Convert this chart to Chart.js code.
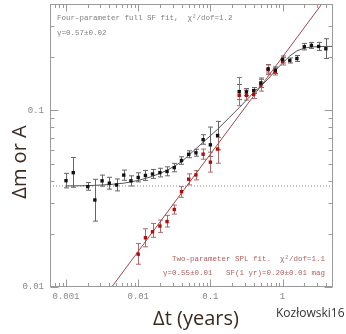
<!DOCTYPE html>
<html>
<head>
<meta charset="utf-8">
<script src="https://cdn.jsdelivr.net/npm/chart.js@4.4.1/dist/chart.umd.min.js"></script>
<style>
html,body{margin:0;padding:0;background:#fff;}
canvas{display:block;}
</style>
</head>
<body>
<canvas id="c" width="346" height="334"></canvas>
<script>
// ---- data ----
const blackDt = [0.001,0.00126,0.002,0.00251,0.00316,0.00398,0.00501,0.00631,0.00794,0.01,0.0126,0.0158,0.02,0.0251,0.0316,0.0398,0.0501,0.0631,0.0794,0.1,0.126,0.251,0.316,0.398,0.501,0.631,0.794,1.0,1.26,1.58,2.0,2.51,3.16,3.98];
const blackSF = [0.0400,0.0444,0.0370,0.0311,0.0399,0.0387,0.0378,0.0430,0.0399,0.0417,0.0428,0.0436,0.0444,0.0451,0.0474,0.0520,0.0564,0.0575,0.0682,0.0638,0.0721,0.1277,0.1272,0.1294,0.1431,0.1718,0.1688,0.1941,0.1916,0.1966,0.2292,0.2331,0.2301,0.2233];
const blackLo = [0.0364,0.0367,0.0353,0.0236,0.0372,0.0358,0.0350,0.0402,0.0373,0.0394,0.0401,0.0412,0.0420,0.0426,0.0449,0.0495,0.0539,0.0550,0.0643,0.0548,0.0598,0.115,0.1212,0.1245,0.1346,0.1627,0.1616,0.1854,0.1854,0.1891,0.2198,0.2242,0.2184,0.1966];
const blackHi = [0.0440,0.0541,0.0390,0.0407,0.0430,0.0418,0.0409,0.0459,0.0426,0.0443,0.0457,0.0463,0.0470,0.0479,0.0501,0.0546,0.0590,0.0602,0.0728,0.0804,0.0866,0.140,0.1328,0.1346,0.1524,0.1818,0.176,0.2032,0.1980,0.2045,0.2393,0.2424,0.2424,0.2544];

const redDt = [0.01,0.0126,0.0158,0.02,0.0251,0.0316,0.0398,0.0501,0.0631,0.0794,0.1,0.126,0.251,0.316,0.398,0.501,0.631,0.794,1.0];
const redSF = [0.01534,0.0190,0.02054,0.02213,0.02347,0.02746,0.03465,0.04076,0.0431,0.0565,0.0509,0.0604,0.1217,0.1217,0.1233,0.139,0.1697,0.1659,0.1898];
const redLo = [0.01346,0.01688,0.0191,0.02038,0.02184,0.02588,0.0322,0.03785,0.0404,0.0529,0.0447,0.0502,0.1063,0.1143,0.1166,0.1285,0.1595,0.1585,0.1806];
const redHi = [0.01764,0.02136,0.0229,0.02393,0.02545,0.0291,0.0370,0.04368,0.0456,0.0604,0.0580,0.0703,0.1534,0.1302,0.1311,0.1494,0.1806,0.1737,0.1993];

const fitDt = [0.001,0.002,0.00398,0.00631,0.01,0.0158,0.0251,0.0398,0.0631,0.1,0.126,0.251,0.398,0.501,0.631,0.794,1.0,1.26,1.58,2.0,2.51,3.16,3.98,5];
const fitSF = [0.03735,0.03745,0.0380,0.0387,0.0401,0.0423,0.0457,0.0511,0.0606,0.0718,0.0782,0.1036,0.1261,0.1373,0.1504,0.1681,0.1854,0.2032,0.2170,0.2251,0.2283,0.2295,0.2301,0.2301];

const splDt = [0.0043,3.5];
const splSF = [0.01,0.4];

const noiseDt = [0.0006,5];
const noiseSF = [0.0373,0.0373];

const xTickLabels = ['0.001','0.01','0.1','1'];
const yTickLabels = ['0.01','0.1'];

const xMin = 0.000625, xMax = 5, yMin = 0.01, yMax = 0.4;

const pts = (xs, ys) => xs.map((x, i) => ({x: x, y: ys[i]}));
const isDecade = v => Math.abs(Math.log10(v) - Math.round(Math.log10(v))) < 1e-6;

const errorBars = {
  id: 'errorBars',
  beforeDatasetsDraw(chart) {
    const ctx = chart.ctx, xs = chart.scales.x, ys = chart.scales.y;
    const draw = (dt, lo, hi, color) => {
      ctx.save();
      ctx.strokeStyle = color; ctx.lineWidth = 1;
      dt.forEach((d, i) => {
        const x = Math.round(xs.getPixelForValue(d)) + 0.5;
        const y1 = ys.getPixelForValue(lo[i]), y2 = ys.getPixelForValue(hi[i]);
        ctx.beginPath();
        ctx.moveTo(x, y1); ctx.lineTo(x, y2);
        ctx.moveTo(x - 2.5, y1); ctx.lineTo(x + 2.5, y1);
        ctx.moveTo(x - 2.5, y2); ctx.lineTo(x + 2.5, y2);
        ctx.stroke();
      });
      ctx.restore();
    };
    draw(blackDt, blackLo, blackHi, '#666');
    draw(redDt, redLo, redHi, '#b06a6a');
  }
};

const frameAndText = {
  id: 'frameAndText',
  afterDraw(chart) {
    const ctx = chart.ctx, a = chart.chartArea, xs = chart.scales.x, ys = chart.scales.y;
    ctx.save();
    ctx.strokeStyle = '#9a9a9a'; ctx.lineWidth = 1;
    const L = Math.round(a.left) + 0.5, R = Math.round(a.right) - 0.5;
    const T = Math.round(a.top) + 0.5, B = Math.round(a.bottom) - 0.5;
    ctx.strokeRect(L, T, R - L, B - T);
    ctx.beginPath();
    for (let e = -4; e <= 1; e++) {
      for (let m = 1; m <= 9; m++) {
        const v = m * Math.pow(10, e);
        if (v <= xMin || v >= xMax) continue;
        const x = Math.round(xs.getPixelForValue(v)) + 0.5;
        const len = m === 1 ? 7 : 3.5;
        ctx.moveTo(x, B); ctx.lineTo(x, B - len);
        ctx.moveTo(x, T); ctx.lineTo(x, T + len);
      }
    }
    for (let e = -2; e <= 0; e++) {
      for (let m = 1; m <= 9; m++) {
        const v = m * Math.pow(10, e);
        if (v <= yMin * 0.999 || v >= yMax) continue;
        const y = Math.round(ys.getPixelForValue(v)) + 0.5;
        const len = m === 1 ? 8 : 4;
        ctx.moveTo(L, y); ctx.lineTo(L + len, y);
        ctx.moveTo(R, y); ctx.lineTo(R - len, y);
      }
    }
    ctx.stroke();

    // annotations
    ctx.font = '7.5px "Liberation Mono", monospace';
    ctx.textBaseline = 'middle';
    ctx.fillStyle = '#808080';
    ctx.textAlign = 'left';
    ctx.fillText('Four-parameter full SF fit,  χ²/dof=1.2', 57, 18);
    ctx.fillText('γ=0.57±0.02', 57, 33);
    ctx.fillStyle = '#b06060';
    ctx.textAlign = 'right';
    ctx.fillText('Two-parameter SPL fit.  χ²/dof=1.1', 325, 259);
    ctx.fillText('γ=0.55±0.01   SF(1 yr)=0.20±0.01 mag', 325, 273.5);

    // titles
    ctx.fillStyle = '#3b2a22';
    ctx.textAlign = 'center';
    ctx.font = '20px "Open Sans", sans-serif';
    ctx.fillText('Δt (years)', 196, 319);
    ctx.save();
    ctx.translate(20, 162);
    ctx.rotate(-Math.PI / 2);
    ctx.fillText('Δm or A', 0, 0);
    ctx.restore();
    ctx.fillStyle = '#333';
    ctx.textAlign = 'left';
    ctx.font = '12px "Open Sans", sans-serif';
    ctx.fillText('Kozłowski16', 276, 314);
    ctx.restore();
  }
};

new Chart(document.getElementById('c'), {
  type: 'scatter',
  data: {
    datasets: [
      { label: 'noise', data: pts(noiseDt, noiseSF), showLine: true, borderColor: '#8a8a8a', borderWidth: 1, borderDash: [1, 2], pointRadius: 0, order: 5 },
      { label: 'SPL fit', data: pts(splDt, splSF), showLine: true, borderColor: '#a04848', borderWidth: 1, pointRadius: 0, order: 4 },
      { label: 'full SF fit', data: pts(fitDt, fitSF), showLine: true, borderColor: '#555', borderWidth: 1, pointRadius: 0, tension: 0, order: 3 },
      { label: 'SPL data', data: pts(redDt, redSF), pointStyle: 'rect', pointRadius: 2.4, backgroundColor: '#b00c0c', borderColor: '#b00c0c', borderWidth: 0, order: 2 },
      { label: 'full data', data: pts(blackDt, blackSF), pointStyle: 'rect', pointRadius: 2.4, backgroundColor: '#111', borderColor: '#111', borderWidth: 0, order: 1 }
    ]
  },
  options: {
    responsive: false,
    animation: false,
    devicePixelRatio: 1,
    clip: true,
    layout: { padding: { top: 4, right: 13, left: 0, bottom: 0 } },
    plugins: { legend: { display: false }, tooltip: { enabled: false } },
    scales: {
      x: {
        type: 'logarithmic', min: xMin, max: xMax,
        afterFit(s) { s.height = 47; s.paddingLeft = 0; s.paddingRight = 0; },
        border: { display: false },
        grid: { display: false, drawTicks: false },
        ticks: {
          autoSkip: false, maxRotation: 0, padding: 4,
          color: '#888', font: { family: 'Liberation Mono', size: 9 },
          callback: (v) => {
            if (!isDecade(v)) return '';
            const s = String(Number(v.toPrecision(3)));
            return xTickLabels.includes(s) ? s : '';
          }
        }
      },
      y: {
        type: 'logarithmic', min: yMin, max: yMax,
        afterFit(s) { s.width = 50; s.paddingTop = 0; s.paddingBottom = 0; },
        border: { display: false },
        grid: { display: false, drawTicks: false },
        ticks: {
          autoSkip: false, padding: 6,
          color: '#888', font: { family: 'Liberation Mono', size: 9 },
          callback: (v) => {
            if (!isDecade(v)) return '';
            const s = String(Number(v.toPrecision(3)));
            return yTickLabels.includes(s) ? s : '';
          }
        }
      }
    }
  },
  plugins: [errorBars, frameAndText]
});
</script>
</body>
</html>
